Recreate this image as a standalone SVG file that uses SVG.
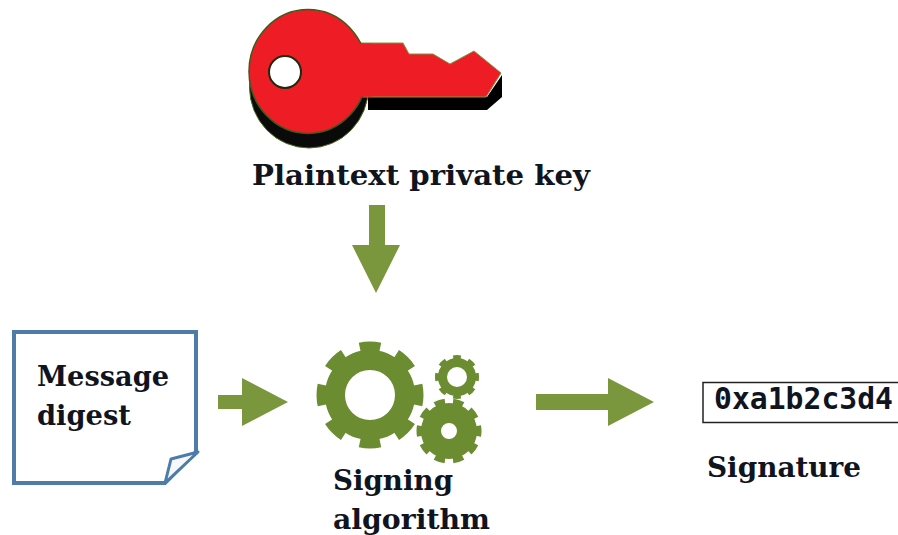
<svg xmlns="http://www.w3.org/2000/svg" width="898" height="535" viewBox="0 0 898 535">
<style>
.lbl{font-family:"DejaVu Serif","Liberation Serif",serif;font-weight:700;font-size:28px;fill:#10141f}
.mono{font-family:"DejaVu Sans Mono","Liberation Mono",monospace;font-weight:700;font-size:29.5px;fill:#10141f}
.arrow{fill:#7a973d}
.gear{fill:none;stroke:#6b8c30}
</style>
<rect width="898" height="535" fill="#fff"/>
<g id="key">
<ellipse cx="309" cy="87" rx="59.500" ry="61" fill="#0a0a0a" stroke="#4d6a1e" stroke-width="1"/>
<path d="M368 97H487L502 75V97L487 110H368Z" fill="#000"/>
<path d="M355 43H403L409 54H433L450 64L474 51L501 73L486 97H355Z" fill="#ee1c25" stroke="#7a973d" stroke-width="1"/>
<ellipse cx="308" cy="71.500" rx="59" ry="62" fill="#ee1c25" stroke="#3d5a1a" stroke-width="1.500"/>
<path d="M355 43.500H372V96.500H355Z" fill="#ee1c25"/>
<circle cx="285" cy="72" r="16" fill="#fff" stroke="#1c2a10" stroke-width="2"/>
</g>
<g id="plaintext-label"><text class="lbl" x="252" y="185" textLength="338" lengthAdjust="spacingAndGlyphs">Plaintext private key</text></g>
<g id="message-digest">
<path d="M14 332H196V452L165 483H14Z" fill="#fff" stroke="#4e7ca8" stroke-width="4"/>
<path d="M165 483L171 459L198 452Z" fill="#f6f8fb" stroke="#4e7ca8" stroke-width="3" stroke-linejoin="round"/>
<text class="lbl" x="37" y="386" textLength="132" lengthAdjust="spacingAndGlyphs">Message</text>
<text class="lbl" x="37" y="425" textLength="94" lengthAdjust="spacingAndGlyphs">digest</text>
</g>
<g id="signing-algorithm">
<circle class="gear" cx="370" cy="395" r="48" stroke-width="11" pathLength="80" stroke-dasharray="5.400 4.600" stroke-dashoffset="2.700"/>
<circle class="gear" cx="370" cy="395" r="35" stroke-width="20"/>
<circle class="gear" cx="457" cy="377" r="19.500" stroke-width="5" pathLength="80" stroke-dasharray="5 5" stroke-dashoffset="2.500"/>
<circle class="gear" cx="457" cy="377" r="14.500" stroke-width="9"/>
<circle class="gear" cx="449" cy="431" r="29" stroke-width="7" pathLength="80" stroke-dasharray="4.500 3.500" stroke-dashoffset="2.250"/>
<circle class="gear" cx="449" cy="431" r="18" stroke-width="20"/>
<text class="lbl" x="333" y="490" textLength="120" lengthAdjust="spacingAndGlyphs">Signing</text>
<text class="lbl" x="333" y="529" textLength="157" lengthAdjust="spacingAndGlyphs">algorithm</text>
</g>
<g id="signature">
<rect x="703" y="382.500" width="200" height="40" fill="#fff" stroke="#222" stroke-width="1.500"/>
<text class="mono" x="714" y="409" textLength="179" lengthAdjust="spacingAndGlyphs">0xa1b2c3d4</text>
<text class="lbl" x="707" y="477" textLength="154" lengthAdjust="spacingAndGlyphs">Signature</text>
</g>
<g id="connectors">
<path class="arrow" d="M369 205H385V245H400L376 293L352 245H369Z"/>
<path class="arrow" d="M218 395H242V378L288 402L242 426V409H218Z"/>
<path class="arrow" d="M536 394H608V378L654 402L608 426V410H536Z"/>
</g>
</svg>
